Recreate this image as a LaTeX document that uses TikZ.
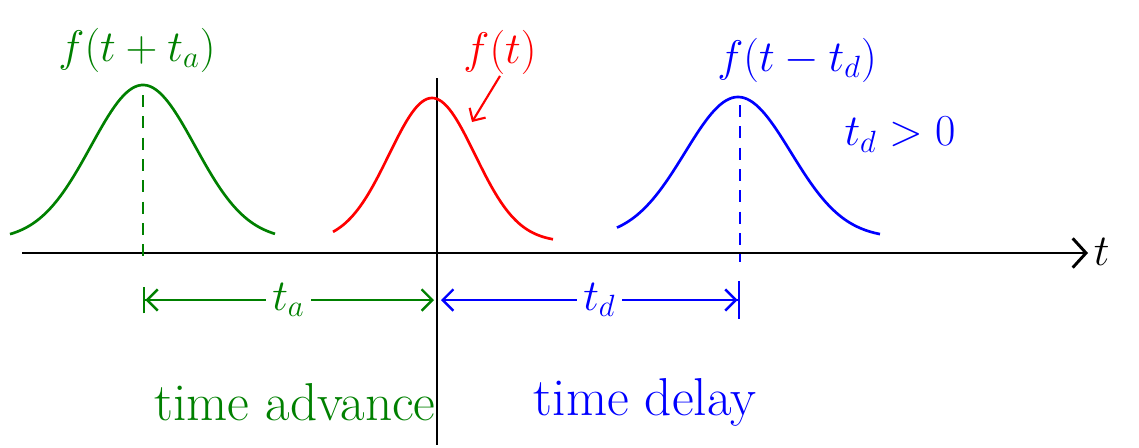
\documentclass[tikz,border=0pt]{standalone}
\usetikzlibrary{arrows.meta}
\definecolor{advgreen}{RGB}{0,128,0}
\tikzset{every picture/.style={line width=0.75pt}}
\begin{document}
\begin{tikzpicture}[x=0.75pt,y=0.75pt,yscale=-1,xscale=1,
  pulse/.style={line width=2pt, line join=round},
  guide/.style={line width=1.6pt, dash pattern={on 9pt off 7pt}},
  hand/.style={inner sep=0.5pt, font=\huge, scale=1.6},
  words/.style={inner sep=0.75pt, font=\fontsize{40}{46}\selectfont},
  span/.style={line width=1.8pt, {Bar[width=20pt]Straight Barb[length=8pt,width=16pt]}-{Straight Barb[length=8pt,width=16pt]}},
  spanr/.style={line width=1.8pt, {Straight Barb[length=8pt,width=16pt]}-{Straight Barb[length=8pt,width=16pt]Bar[width=28pt]}}]
\useasboundingbox (0,0) rectangle (1139,447);

%Axes
\coordinate (tstart) at (22,253);
\coordinate (tend) at (1088,253);
\draw [line width=2.2pt, -{Straight Barb[length=10pt,width=22pt]}] (tstart) -- (tend);
\node [hand, anchor=west] (tlab) at (1092,252) {$t$};
\coordinate (ytop) at (437,78);
\coordinate (ybot) at (437,445);
\draw [line width=2pt] (ytop) -- (ybot);

%Pulses
\draw [pulse, advgreen] plot [domain=10:275, samples=90] (\x,{240-155*exp(-0.5*((\x-143)/52)*((\x-143)/52))});
\draw [pulse, red] plot [domain=333:553, samples=90] (\x,{242-144*exp(-0.5*((\x-432)/43)*((\x-432)/43))});
\draw [pulse, blue] plot [domain=617:880, samples=90] (\x,{238-141*exp(-0.5*((\x-738)/53)*((\x-738)/53))});

%Dashed centre lines
\coordinate (gpeak) at (143,95);
\coordinate (gfoot) at (143,262);
\draw [guide, advgreen] (gpeak) -- (gfoot);
\coordinate (bpeak) at (740,105);
\coordinate (bfoot) at (740,262);
\draw [guide, blue] (bpeak) -- (bfoot);

%Shift arrows
\coordinate (aleft) at (143,300);
\coordinate (aright) at (434,300);
\draw [span, advgreen] (aleft) -- (aright) node [midway, fill=white, hand, inner sep=3pt] (talab) {$t_a$};
\coordinate (dleft) at (441,300);
\coordinate (dright) at (740,300);
\draw [spanr, blue] (dleft) -- (dright) node [pos=0.53, fill=white, hand, inner sep=3pt] (tdlab) {$t_d$};

% Text Node
\node [hand, advgreen] (fadv) at (137,50) {$f(t+t_a)$};
% Text Node
\node [hand, red] (fnow) at (500,52) {$f(t)$};
\coordinate (fhit) at (472,122);
\draw [line width=1.6pt, red, -{Straight Barb[length=7pt,width=14pt]}] (fnow.south) -- (fhit);
% Text Node
\node [hand, blue] (fdel) at (797,60) {$f(t-t_d)$};
% Text Node
\node [hand, blue] (tdpos) at (900,135) {$t_d>0$};
% Text Node
\node [words, advgreen] (advtxt) at (295,402) {time advance};
% Text Node
\node [words, blue] (deltxt) at (645,402) {time delay};

\end{tikzpicture}
\end{document}
